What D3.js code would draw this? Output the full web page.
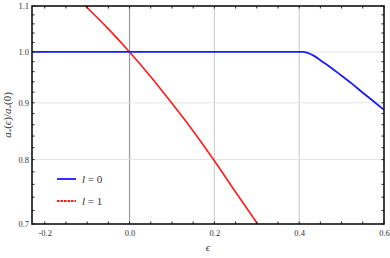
<!DOCTYPE html>
<html lang="en">
<head>
    <meta charset="UTF-8">
    <title>a*(eps)/a*(0)</title>
    <style>
        html, body { margin: 0; background: #fff; }
        text { font-family: "Liberation Serif", "DejaVu Serif", serif; }
        .tick text { font-size: 8.5px; fill: #333; }
    </style>
</head>
<body>
    <div class="chart"></div>
    <script src="https://d3js.org/d3.v7.min.js"></script>
    <script>
        // series
        var blueEps = [-0.23, 0.2, 0.408, 0.42, 0.435, 0.455, 0.475, 0.5, 0.525, 0.55, 0.575, 0.6];
        var blueVal = [1.0, 1.0, 1.0, 0.998, 0.992, 0.980, 0.968, 0.952, 0.936, 0.919, 0.903, 0.887];
        var redEps = [-0.104, -0.05, 0, 0.05, 0.1, 0.15, 0.2, 0.25, 0.302];
        var redVal = [1.1, 1.049, 1.0, 0.950, 0.899, 0.849, 0.798, 0.748, 0.7];

        var xTicks = [-0.2, 0, 0.2, 0.4, 0.6];
        var xTickLabels = ["-0.2", "0.0", "0.2", "0.4", "0.6"];
        var yTicks = [0.7, 0.8, 0.9, 1.0, 1.1];
        var yTickLabels = ["0.7", "0.8", "0.9", "1.0", "1.1"];
        var xGrid = [0.2, 0.4];
        var yGrid = [0.8, 0.9, 1.0];
        var legendLabels = ["0", "1"];

        var W = 390, H = 258;
        var margin = { top: 6, right: 6, bottom: 34, left: 32 };
        var width = W - margin.left - margin.right,
            height = H - margin.top - margin.bottom;

        var svg = d3.select('.chart').append('svg')
            .attr('width', W).attr('height', H);
        var g = svg.append('g')
            .attr('transform', `translate(${margin.left},${margin.top})`);

        var x = d3.scaleLinear().domain([-0.23, 0.6]).range([0, width]);
        var y = d3.scaleLog().domain([0.7, 1.1]).range([height, 0]);

        // grid
        g.selectAll('.gx').data(xGrid).enter().append('line')
            .attr('x1', d => x(d)).attr('x2', d => x(d))
            .attr('y1', 0).attr('y2', height)
            .attr('stroke', '#c8c8c8').attr('stroke-width', 1);
        g.append('line')
            .attr('x1', x(0)).attr('x2', x(0)).attr('y1', 0).attr('y2', height)
            .attr('stroke', '#999').attr('stroke-width', 1.2);
        g.selectAll('.gy').data(yGrid).enter().append('line')
            .attr('x1', 0).attr('x2', width)
            .attr('y1', d => y(d)).attr('y2', d => y(d))
            .attr('stroke', '#e3e3e3').attr('stroke-width', 1);

        // curves
        var line = d3.line().x(d => x(d[0])).y(d => y(d[1])).curve(d3.curveMonotoneX);
        g.append('clipPath').attr('id', 'clip').append('rect')
            .attr('width', width).attr('height', height);
        g.append('path').attr('d', line(d3.zip(redEps, redVal)))
            .attr('fill', 'none').attr('stroke', '#ff1a1a').attr('stroke-width', 1.6)
            .attr('clip-path', 'url(#clip)');
        g.append('path').attr('d', line(d3.zip(blueEps, blueVal)))
            .attr('fill', 'none').attr('stroke', '#1a1aff').attr('stroke-width', 1.8)
            .attr('clip-path', 'url(#clip)');

        // axes with inner ticks
        var xMinor = d3.range(-0.2, 0.601, 0.05);
        var yMinor = d3.range(0.7, 1.101, 0.02);
        g.append('g').attr('class', 'axis').attr('transform', `translate(0,${height})`)
            .call(d3.axisBottom(x).tickValues(xTicks).tickSize(0).tickPadding(6)
                .tickFormat((d, i) => xTickLabels[i]));
        g.append('g').attr('class', 'axis')
            .call(d3.axisLeft(y).tickValues(yTicks).tickSize(0).tickPadding(3)
                .tickFormat((d, i) => yTickLabels[i]));
        svg.selectAll('.axis .domain').remove();

        g.selectAll('.xt').data(xMinor).enter().append('line')
            .attr('x1', d => x(d)).attr('x2', d => x(d))
            .attr('y1', height).attr('y2', height - 2.5).attr('stroke', '#222');
        g.selectAll('.xt2').data(xMinor).enter().append('line')
            .attr('x1', d => x(d)).attr('x2', d => x(d))
            .attr('y1', 0).attr('y2', 2.5).attr('stroke', '#222');
        g.selectAll('.yt').data(yMinor).enter().append('line')
            .attr('x1', 0).attr('x2', 2.5)
            .attr('y1', d => y(d)).attr('y2', d => y(d)).attr('stroke', '#222');
        g.selectAll('.yt2').data(yMinor).enter().append('line')
            .attr('x1', width).attr('x2', width - 2.5)
            .attr('y1', d => y(d)).attr('y2', d => y(d)).attr('stroke', '#222');

        // frame
        g.append('rect').attr('width', width).attr('height', height)
            .attr('fill', 'none').attr('stroke', '#111').attr('stroke-width', 1.6);

        // axis labels
        svg.append('text')
            .attr('x', margin.left + width / 2).attr('y', 251)
            .attr('text-anchor', 'middle').attr('font-size', 11).attr('font-style', 'italic')
            .attr('fill', '#333').text('ϵ');
        var yl = svg.append('text')
            .attr('transform', `translate(11,${margin.top + height / 2}) rotate(-90)`)
            .attr('text-anchor', 'middle').attr('font-size', 11).attr('fill', '#333');
        yl.append('tspan').attr('font-style', 'italic').text('a');
        yl.append('tspan').attr('font-size', 7).attr('dy', 2).text('*');
        yl.append('tspan').attr('dy', -2).text('(');
        yl.append('tspan').attr('font-style', 'italic').text('ϵ');
        yl.append('tspan').text(')/');
        yl.append('tspan').attr('font-style', 'italic').text('a');
        yl.append('tspan').attr('font-size', 7).attr('dy', 2).text('*');
        yl.append('tspan').attr('dy', -2).text('(0)');

        // legend
        var leg = svg.append('g').attr('transform', 'translate(57,179)');
        var legColors = ['#1a1aff', '#ff1a1a'];
        legendLabels.forEach(function (l, i) {
            var row = leg.append('g').attr('transform', `translate(0,${i * 22})`);
            row.append('line').attr('x1', 0).attr('x2', 19)
                .attr('stroke', legColors[i]).attr('stroke-width', 1.8)
                .attr('stroke-dasharray', i === 1 ? '2.5,1' : null);
            var t = row.append('text').attr('x', 25).attr('y', 4)
                .attr('font-size', 11).attr('fill', '#333');
            t.append('tspan').attr('font-style', 'italic').text('l');
            t.append('tspan').text(' = ' + l);
        });
    </script>
</body>
</html>
